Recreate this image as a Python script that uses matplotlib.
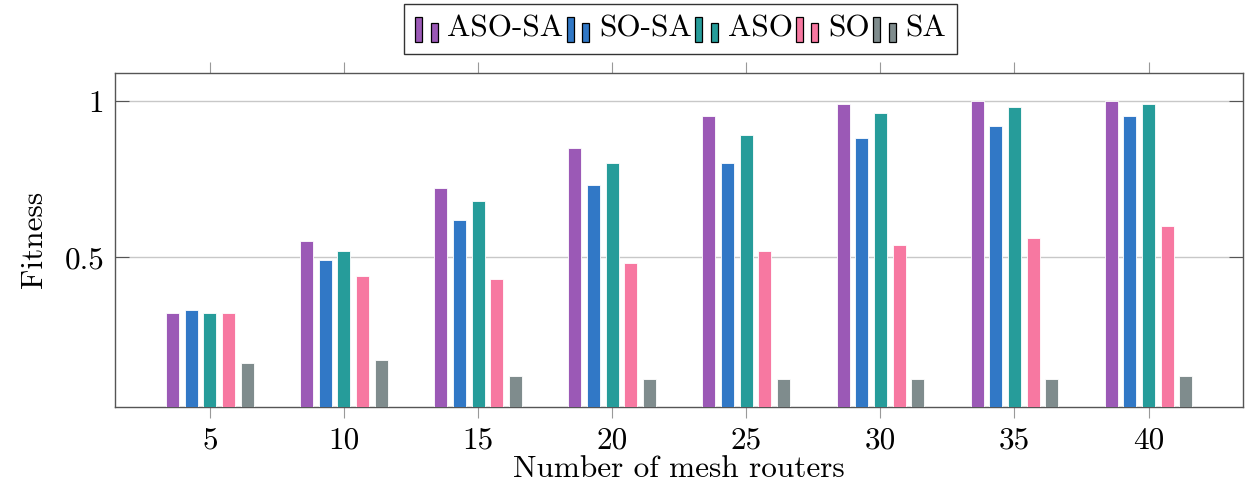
import matplotlib
matplotlib.use("Agg")
import matplotlib.pyplot as plt
import numpy as np
from matplotlib.legend_handler import HandlerBase
from matplotlib.patches import Rectangle

# Data
routers = [5, 10, 15, 20, 25, 30, 35, 40]
series_names = ["ASO-SA", "SO-SA", "ASO", "SO", "SA"]
aso_sa = [0.32, 0.55, 0.72, 0.85, 0.95, 0.99, 1.00, 1.00]
so_sa = [0.33, 0.49, 0.62, 0.73, 0.80, 0.88, 0.92, 0.95]
aso = [0.32, 0.52, 0.68, 0.80, 0.89, 0.96, 0.98, 0.99]
so = [0.32, 0.44, 0.43, 0.48, 0.52, 0.54, 0.56, 0.60]
sa = [0.16, 0.17, 0.12, 0.11, 0.11, 0.11, 0.11, 0.12]
colors = ["#9b59b6", "#3178c6", "#269c9a", "#f778a1", "#7f8c8d"]

plt.rcParams["font.family"] = ["cmr10", "DejaVu Serif"]
plt.rcParams["mathtext.fontset"] = "cm"
plt.rcParams["axes.formatter.use_mathtext"] = True

fs = 22.5

fig = plt.figure(figsize=(12.48, 4.86), dpi=100)
ax = fig.add_axes([0.0925, 0.1632, 0.9035, 0.6872])

values = [aso_sa, so_sa, aso, so, sa]
bar_w = 0.484
step = 0.696
x = np.array(routers, dtype=float)
for i, (vals, c) in enumerate(zip(values, colors)):
    off = (i - 2) * step
    ax.bar(x + off, vals, width=bar_w, color=c, edgecolor="white",
           linewidth=0.6, label=series_names[i], zorder=3)

ax.set_xlim(5 - 3.52, 40 + 3.52)
ax.set_ylim(0.021, 1.09)

ax.set_xticks(routers)
ax.set_xticklabels([str(r) for r in routers], fontsize=fs)
ax.set_yticks([0.5, 1.0])
ax.set_yticklabels(["0.5", "1"], fontsize=fs)

ax.tick_params(axis="x", direction="out", length=8, width=0.8,
               color="#999999", top=True, bottom=True, pad=6)
ax.tick_params(axis="y", direction="in", length=10, width=0.8,
               color="#555555", left=True, right=True, pad=8)

ax.grid(axis="y", color="#c8c8c8", linewidth=1.0, zorder=0)
ax.set_axisbelow(True)
for sp in ax.spines.values():
    sp.set_color("#555555")
    sp.set_linewidth(1.0)

ax.set_xlabel("Number of mesh routers", fontsize=fs, labelpad=1)
ax.set_ylabel("Fitness", fontsize=fs, labelpad=12)


class TwoBarHandler(HandlerBase):
    def create_artists(self, legend, orig_handle, xdescent, ydescent,
                       width, height, fontsize, trans):
        c = orig_handle.get_facecolor()
        w = width * 0.30
        base = -ydescent - height * 0.22
        r1 = Rectangle((-xdescent, base), w, height * 1.14,
                       facecolor=c, edgecolor="black", linewidth=0.9,
                       transform=trans)
        r2 = Rectangle((-xdescent + width * 0.68, base), w, height * 0.87,
                       facecolor=c, edgecolor="black", linewidth=0.9,
                       transform=trans)
        return [r1, r2]


handles, labels = ax.get_legend_handles_labels()
proxies = [h.patches[0] for h in handles]
leg = fig.legend(proxies, labels, loc="upper center",
                 bbox_to_anchor=(0.5453, 0.992), ncol=5, fontsize=fs,
                 frameon=True, fancybox=False, edgecolor="black",
                 handler_map={type(proxies[0]): TwoBarHandler()},
                 handlelength=0.74, handletextpad=0.3, columnspacing=0.1,
                 borderpad=0.35, borderaxespad=0.0)
leg.get_frame().set_linewidth(1.0)

fig.savefig("out.png", dpi=100)
